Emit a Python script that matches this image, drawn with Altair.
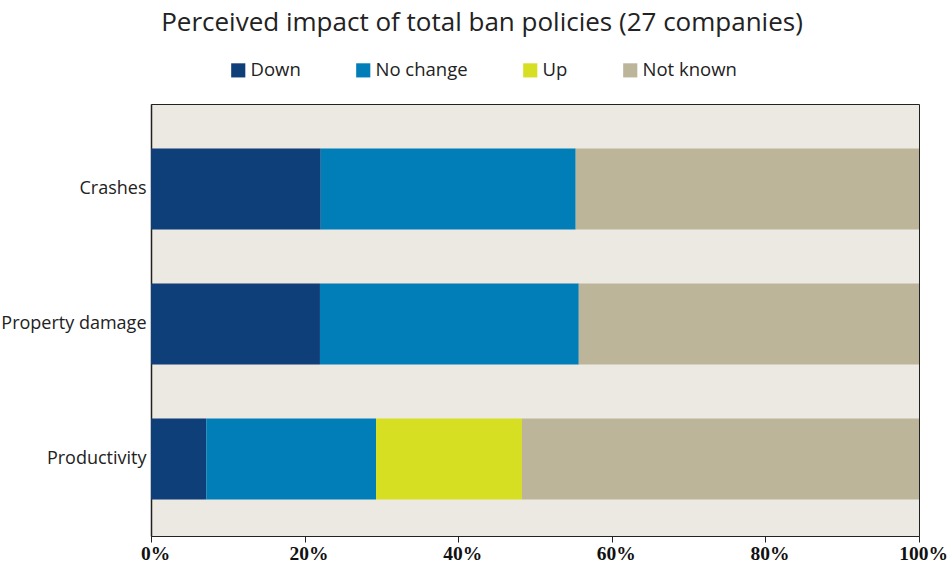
import altair as alt
import pandas as pd

categories = ["Crashes", "Property damage", "Productivity"]
responses = ["Down", "No change", "Up", "Not known"]
down = [22.1, 22.0, 7.2]
no_change = [33.2, 33.7, 22.1]
up = [0.0, 0.0, 19.0]
not_known = [44.7, 44.3, 51.7]
colors = ["#0f3f78", "#017db7", "#d7df22", "#bcb59a"]
x_ticks = [0, 20, 40, 60, 80, 100]

rows = []
for i, c in enumerate(categories):
    for j, (r, series) in enumerate(zip(responses, [down, no_change, up, not_known])):
        rows.append({"category": c, "response": r, "value": series[i], "order": j})
df = pd.DataFrame(rows)

chart = alt.Chart(df).mark_bar().encode(
    y=alt.Y("category:N", sort=categories,
            scale=alt.Scale(paddingInner=0.4, paddingOuter=0.3, align=0.55),
            axis=alt.Axis(title=None, ticks=False, labelFont="Open Sans", labelFontSize=18,
                          labelColor="#222", labelPadding=5, domainColor="#222", domainWidth=1.5)),
    x=alt.X("value:Q", stack="zero",
            scale=alt.Scale(domain=[0, 100], nice=False),
            axis=alt.Axis(title=None, values=x_ticks, grid=False, labelExpr="datum.value + '%'",
                          labelFont="Liberation Serif", labelFontWeight="bold", labelFontSize=19.5,
                          labelColor="#111", labelPadding=2, tickSize=6, tickColor="#222",
                          labelOffset=4, domainColor="#222", labelFlush=False)),
    color=alt.Color("response:N", sort=responses,
                    scale=alt.Scale(domain=responses, range=colors),
                    legend=alt.Legend(title=None, orient="none", legendX=78, legendY=-43,
                                      direction="horizontal", symbolType="square",
                                      symbolSize=200, symbolStrokeWidth=0, labelFont="Open Sans",
                                      labelFontSize=18.5, labelColor="#222", columnPadding=53,
                                      labelOffset=3, padding=0)),
    order=alt.Order("order:Q"),
).properties(
    width=768, height=432,
    title=alt.TitleParams("Perceived impact of total ban policies (27 companies)",
                          font="Open Sans", fontSize=26, fontWeight="normal", color="#222",
                          anchor="middle", dx=-53, offset=25),
    autosize=alt.AutoSizeParams(type="none"),
    padding={"left": 151, "top": 104, "right": 32, "bottom": 26},
).configure_view(
    fill="#ece9e2", stroke="#222", strokeWidth=1
)

chart.save("out.html", embed_options={"renderer": "svg", "actions": False})
